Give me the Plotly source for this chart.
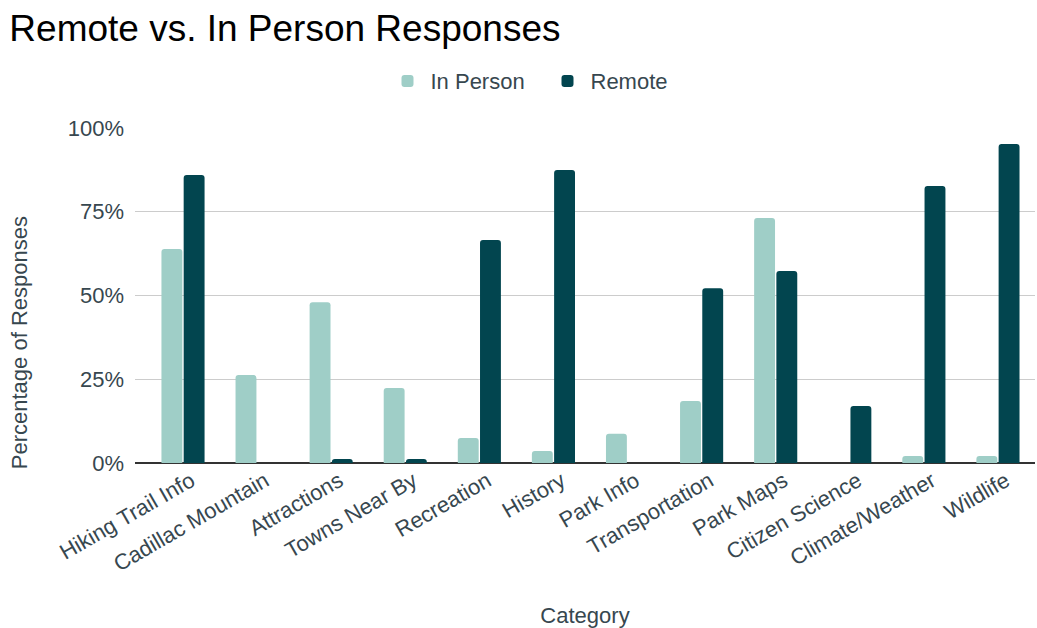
import plotly.graph_objects as go

categories = ["Hiking Trail Info", "Cadillac Mountain", "Attractions", "Towns Near By",
              "Recreation", "History", "Park Info", "Transportation", "Park Maps",
              "Citizen Science", "Climate/Weather", "Wildlife"]
in_person = [0.639, 0.263, 0.48, 0.224, 0.075, 0.036, 0.087, 0.185, 0.731, 0.0, 0.021, 0.021]
remote = [0.86, 0.0, 0.012, 0.012, 0.666, 0.875, 0.0, 0.522, 0.573, 0.17, 0.827, 0.952]

text_col = "#37474f"
fnt = "Liberation Sans, Arial, sans-serif"
fig = go.Figure()
fig.add_trace(go.Bar(name="In Person", x=categories, y=in_person, marker_color="#9fcec7",
                     marker_line_width=0))
fig.add_trace(go.Bar(name="Remote", x=categories, y=remote, marker_color="#02454f",
                     marker_line_width=0))

fig.update_layout(
    width=1037, height=628,
    margin=dict(l=135, r=2, t=128, b=165, autoexpand=False),
    paper_bgcolor="white", plot_bgcolor="white",
    font=dict(family=fnt, color=text_col, size=22),
    title=dict(text="Remote vs. In Person Responses", x=0.009, xanchor="left",
               y=0.955, yanchor="middle",
               font=dict(size=37, color="#000000", family=fnt)),
    barmode="group", bargap=0.4, bargroupgap=0.06, barcornerradius=3,
    legend=dict(orientation="h", x=0.455, xanchor="center",
                y=1.14, yanchor="middle", entrywidth=109, itemwidth=36,
                font=dict(size=22, color=text_col, family=fnt), itemsizing="constant"),
    xaxis=dict(range=[-0.648, 11.5], tickangle=-30, tickfont=dict(size=22, color=text_col),
               ticklabelshift=8,
               title=dict(text="Category", font=dict(size=22, color=text_col), standoff=34),
               showgrid=False, ticks="", showline=False, automargin=False),
    yaxis=dict(range=[0, 1.0], dtick=0.25, tickformat=".0%",
               tickfont=dict(size=22, color=text_col), ticklabelstandoff=10,
               gridcolor="#cccccc", gridwidth=1, zeroline=True, zerolinecolor="#333333",
               zerolinewidth=2, ticks="", showline=False, automargin=False),
    annotations=[dict(text="Percentage of Responses", textangle=-90, xref="paper", yref="paper",
                      x=-0.128, y=0.36, xanchor="center", yanchor="middle", showarrow=False,
                      font=dict(size=22, color=text_col, family=fnt))],
)
fig.write_html("out.html")
